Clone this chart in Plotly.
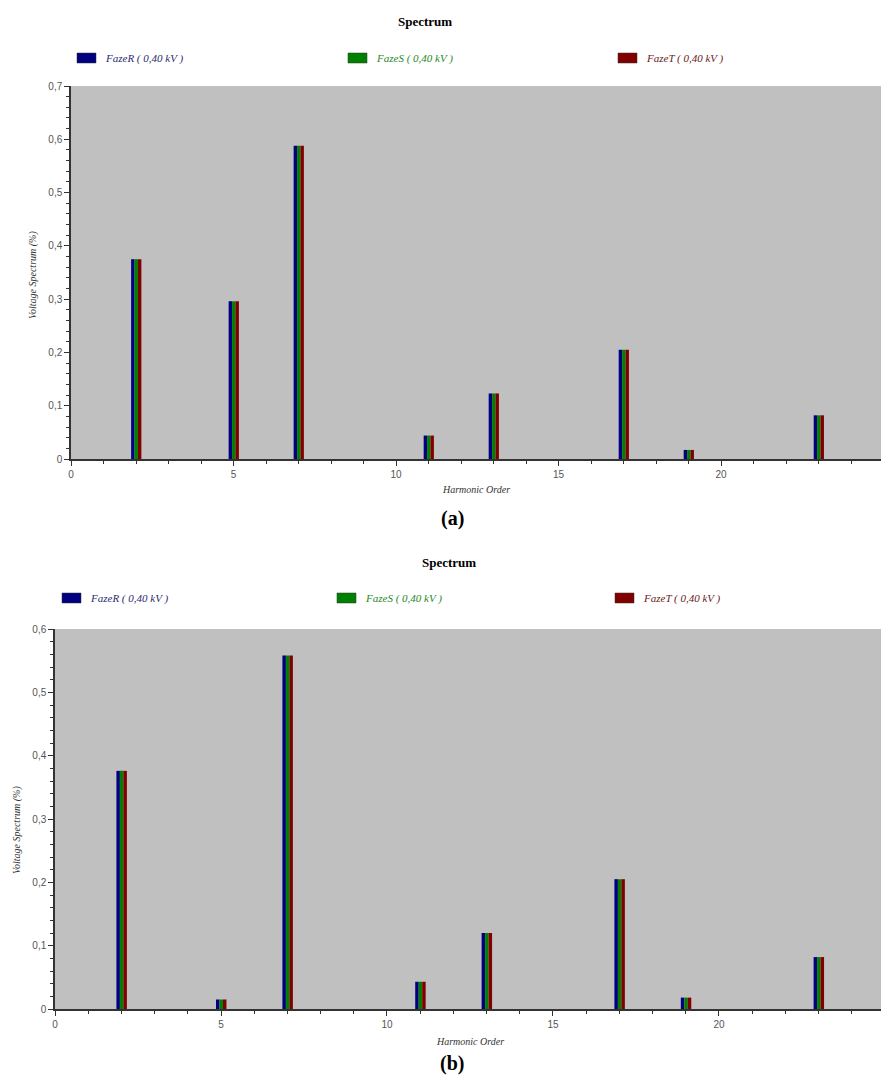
import plotly.graph_objects as go

W, H = 881, 1079

harmonics = [2, 5, 7, 11, 13, 17, 19, 23]
series_names = ["FazeR ( 0,40 kV )", "FazeS ( 0,40 kV )", "FazeT ( 0,40 kV )"]
colors = ["#000080", "#008000", "#800000"]
text_colors = ["#2a2a70", "#1f8a1f", "#6a2020"]

# (a) spectrum values (%), same for the three phases
values_a = [0.375, 0.296, 0.588, 0.044, 0.123, 0.205, 0.017, 0.082]
# (b) spectrum values (%)
values_b = [0.376, 0.015, 0.558, 0.043, 0.120, 0.205, 0.018, 0.082]

yticks_a = [0, 0.1, 0.2, 0.3, 0.4, 0.5, 0.6, 0.7]
yticks_b = [0, 0.1, 0.2, 0.3, 0.4, 0.5, 0.6]
xticks = [0, 5, 10, 15, 20, 25]


def px_x(p):
    return p / W


def px_y(p):
    return 1 - p / H


fig = go.Figure()

offsets = [-0.15, -0.045, 0.06]
bw = 0.105
for vals, xa, ya in [(values_a, "x", "y"), (values_b, "x2", "y2")]:
    for i in range(3):
        fig.add_trace(go.Bar(
            x=harmonics, y=vals, width=bw, offset=offsets[i],
            marker=dict(color=colors[i], line=dict(width=0)),
            name=series_names[i], showlegend=False,
            xaxis=xa, yaxis=ya,
        ))

tickfont = dict(family="Liberation Sans, Arial", size=10, color="#555555")
axis_common = dict(
    showline=True, linecolor="#333333", linewidth=1.5, mirror=False,
    showgrid=False, zeroline=False, ticks="outside", ticklen=5,
    tickcolor="#333333", tickfont=tickfont,
)

fig.update_layout(
    width=W, height=H,
    margin=dict(l=0, r=0, t=0, b=0, autoexpand=False),
    paper_bgcolor="white",
    plot_bgcolor="#c0c0c0",
    separators=",.",
    barmode="overlay",
    xaxis=dict(domain=[px_x(71), 1], anchor="y", range=[0, 24.92],
               tickvals=xticks, minor=dict(ticks="outside", dtick=1, ticklen=3, tickcolor="#333333"),
               **axis_common),
    yaxis=dict(domain=[px_y(459), px_y(86)], anchor="x", range=[0, 0.7],
               tickvals=yticks_a, minor=dict(ticks="outside", dtick=0.02, ticklen=3, tickcolor="#333333"),
               **axis_common),
    xaxis2=dict(domain=[px_x(55), 1], anchor="y2", range=[0, 24.88],
                tickvals=xticks, minor=dict(ticks="outside", dtick=1, ticklen=3, tickcolor="#333333"),
                **axis_common),
    yaxis2=dict(domain=[px_y(1009), px_y(629)], anchor="x2", range=[0, 0.6],
                tickvals=yticks_b, minor=dict(ticks="outside", dtick=0.02, ticklen=3, tickcolor="#333333"),
                **axis_common),
)

annotations = []
shapes = []

serif = "Liberation Serif, Times New Roman, serif"


def add_text(text, x, y, size, color="black", bold=False, italic=False, angle=0):
    t = text
    if bold:
        t = "<b>" + t + "</b>"
    if italic:
        t = "<i>" + t + "</i>"
    annotations.append(dict(
        text=t, x=px_x(x), y=px_y(y), xref="paper", yref="paper",
        xanchor="center", yanchor="middle", showarrow=False,
        font=dict(family=serif, size=size, color=color), textangle=angle,
    ))


# Titles
add_text("Spectrum", 425, 21, 13, bold=True)
add_text("Spectrum", 449, 562, 13, bold=True)

# Axis titles
add_text("Harmonic Order", 476, 489, 10, color="#333333", italic=True)
add_text("Harmonic Order", 470, 1041, 10, color="#333333", italic=True)
add_text("Voltage Spectrum (%)", 33, 275, 10, color="#333333", italic=True, angle=-90)
add_text("Voltage Spectrum (%)", 17, 830, 10, color="#333333", italic=True, angle=-90)

# Captions
add_text("(a)", 452, 518, 20, bold=True)
add_text("(b)", 452, 1063, 20, bold=True)

# Manual legends
legend_rows = [
    (58, [77, 348, 618]),
    (598, [62, 337, 615]),
]
for ly, xs in legend_rows:
    for i, bx in enumerate(xs):
        shapes.append(dict(
            type="rect", xref="paper", yref="paper",
            x0=px_x(bx), x1=px_x(bx + 19), y0=px_y(ly + 5), y1=px_y(ly - 5),
            fillcolor=colors[i], line=dict(color="#333333", width=0.5),
        ))
        annotations.append(dict(
            text="<i>" + series_names[i] + "</i>", x=px_x(bx + 26), y=px_y(ly),
            xref="paper", yref="paper", xanchor="left", yanchor="middle",
            showarrow=False, font=dict(family=serif, size=11, color=text_colors[i]),
        ))

fig.update_layout(annotations=annotations, shapes=shapes)

fig.write_html(
    "out.html",
    config={"displayModeBar": False},
    post_script="document.body.style.margin='0px';document.body.style.overflow='hidden';",
)
